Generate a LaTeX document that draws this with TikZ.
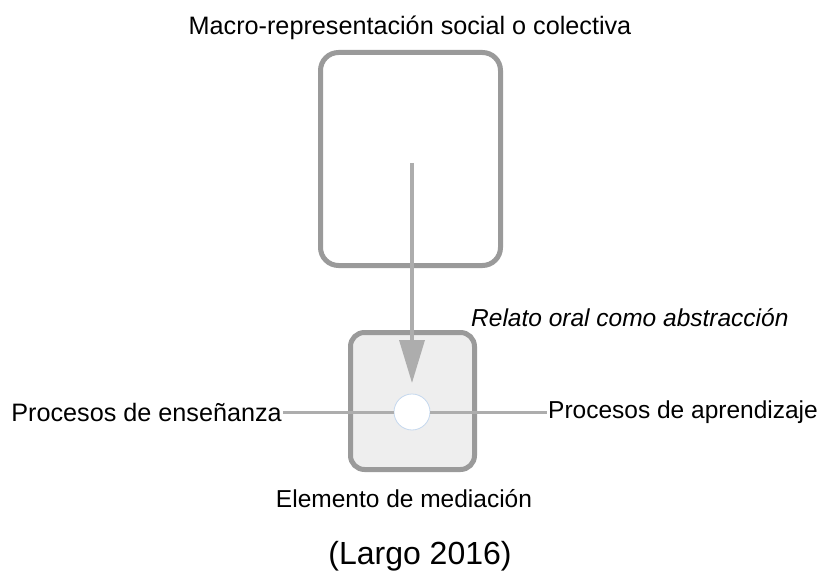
\documentclass[tikz,border=0pt]{standalone}
\usepackage{fontspec}
\setmainfont{Liberation Sans}
\usetikzlibrary{arrows.meta}
\definecolor{boxgray}{HTML}{9A9A9A}
\definecolor{linegray}{HTML}{ADADAD}
\definecolor{innerfill}{HTML}{EEEEEE}
\definecolor{circblue}{HTML}{C5D8EE}
\tikzset{
  bigbox/.style={draw=boxgray, line width=5pt, rounded corners=18pt, minimum width=180pt, minimum height=213pt, inner sep=0pt},
  medbox/.style={draw=boxgray, fill=innerfill, line width=5pt, rounded corners=14pt, minimum width=124pt, minimum height=137pt, inner sep=0pt},
  hub/.style={circle, draw=circblue, fill=white, line width=0.8pt, minimum size=36pt, inner sep=0pt},
  lbl/.style={font=\fontsize{24.5}{28}\selectfont, inner sep=1pt},
  conn/.style={draw=linegray, line width=3pt},
}
\begin{document}
\begin{tikzpicture}[x=1pt,y=-1pt]
\useasboundingbox (0,0) rectangle (825,583);
\node[bigbox] (macro) at (410.5,159) {};
\node[medbox] (medio) at (412.5,401) {};
\node[hub] (hubc) at (412,412) {};
\coordinate (astart) at (412,163);
\coordinate (atip) at (412,383);
\draw[conn, line width=3.5pt, -{Triangle[width=25pt,length=43pt]}] (astart) -- (atip);
\node[lbl, font=\fontsize{25.2}{28}\selectfont] (title) at (410,28) {Macro-representación social o colectiva};
\node[lbl, anchor=west] (relato) at (470,318) {\itshape Relato oral como abstracción};
\node[lbl, font=\fontsize{25.2}{28}\selectfont, anchor=east] (ense) at (283,412) {Procesos de enseñanza};
\node[lbl, anchor=west] (apre) at (547,412) {Procesos de aprendizaje};
\node[lbl] (elem) at (404,499) {Elemento de mediación};
\node[font=\fontsize{32}{36}\selectfont, inner sep=1pt] (cite) at (420,556) {(Largo 2016)};
\draw[conn] (ense.east) -- (hubc.west);
\draw[conn] (hubc.east) -- (apre.west);
\end{tikzpicture}
\end{document}
